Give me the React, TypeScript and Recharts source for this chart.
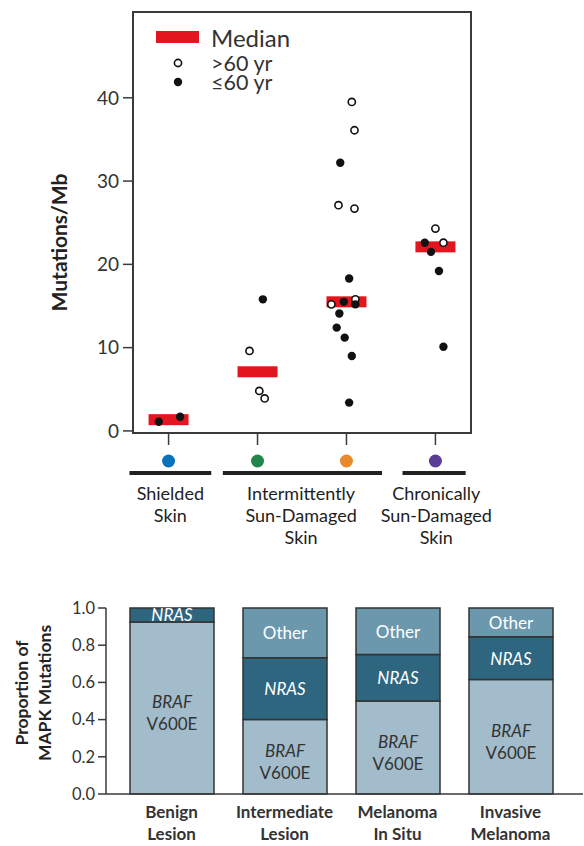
import React from 'react';
import {
  ScatterChart,
  Scatter,
  BarChart,
  Bar,
  XAxis,
  YAxis,
  ReferenceArea,
  Legend,
  LabelList,
} from 'recharts';

// top panel: mutation burden by skin type
const skinColors = ['#0b72b9', '#1f8749', '#e8892b', '#5b3d98'];
const skinTicks = [0, 1, 2, 3];
const groupLabels = [['Shielded', 'Skin'], ['Intermittently', 'Sun-Damaged', 'Skin'], ['Chronically', 'Sun-Damaged', 'Skin']];
const groupStartTick = [0, 1, 3];
const groupFrom = [-0.44, 0.61, 2.63];
const groupTo = [0.48, 2.4, 3.34];
const groupMid = [0.02, 1.49, 3.01];

const medianX = [0, 1, 2, 3];
const medianY = [1.35, 7.1, 15.5, 22.1];

const olderX = [2.06, 2.09, 1.91, 2.09, 3.0, 3.09, 1.83, 2.1, 0.91, 1.02, 1.08];
const olderY = [39.5, 36.1, 27.1, 26.7, 24.3, 22.6, 15.2, 15.8, 9.6, 4.8, 3.9];

const youngerX = [1.93, 2.88, 2.95, 3.04, 3.09, 2.03, 1.06, 1.97, 2.1, 1.92, 1.89, 1.98, 2.06, 2.03, -0.11, 0.13];
const youngerY = [32.2, 22.6, 21.5, 19.2, 10.1, 18.3, 15.8, 15.5, 15.2, 14.1, 12.4, 11.2, 9.0, 3.4, 1.1, 1.7];

const mutTicks = [0, 10, 20, 30, 40];

// bottom panel: MAPK mutation proportions
const stages = [['Benign', 'Lesion'], ['Intermediate', 'Lesion'], ['Melanoma', 'In Situ'], ['Invasive', 'Melanoma']];
const brafShare = [0.925, 0.4, 0.5, 0.615];
const nrasShare = [0.075, 0.333, 0.25, 0.231];
const otherShare = [0, 0.267, 0.25, 0.154];
const propTicks = [0, 0.2, 0.4, 0.6, 0.8, 1.0];

const medians = medianX.map((x, i) => ({ x, y: medianY[i] }));
const older = olderX.map((x, i) => ({ x, y: olderY[i] }));
const younger = youngerX.map((x, i) => ({ x, y: youngerY[i] }));
const stageData = stages.map((s, i) => ({
  name: s.join(' '),
  braf: brafShare[i],
  nras: nrasShare[i],
  other: otherShare[i],
}));

const FONT = 'Lato, "Open Sans", sans-serif';
const INK = '#333';
const AXIS = '#3a3a3a';
const RED = '#e3161f';

const TOP_W = 584;
const TOP_LEFT = 133;
const TOP_RIGHT = 113;
const X_DOMAIN: [number, number] = [-0.4, 3.4];
const UNIT = (TOP_W - TOP_LEFT - TOP_RIGHT) / (X_DOMAIN[1] - X_DOMAIN[0]);

const SkinTick = (props: any) => {
  const { x, y, payload } = props;
  const v = payload.value;
  const g = groupStartTick.indexOf(v);
  return (
    <g>
      <circle cx={x} cy={y + 14} r={6.5} fill={skinColors[v]} />
      {g >= 0 && (
        <g>
          <line x1={x + (groupFrom[g] - v) * UNIT} x2={x + (groupTo[g] - v) * UNIT} y1={y + 26} y2={y + 26}
            stroke="#222" strokeWidth={4} />
          {groupLabels[g].map((t, i) => (
            <text key={t} x={x + (groupMid[g] - v) * UNIT} y={y + 46 + i * 22} textAnchor="middle"
              dominantBaseline="central" fontSize={18} fill="#1e1e1e" fontFamily={FONT}>{t}</text>
          ))}
        </g>
      )}
    </g>
  );
};

const LegendBox = () => (
  <svg width={170} height={75}>
    <rect x={6} y={11} width={43} height={12} fill={RED} />
    <circle cx={28} cy={43} r={3.6} fill="#fff" stroke="#111" strokeWidth={1.6} />
    <circle cx={28} cy={62} r={4.2} fill="#111" />
    <text x={61} y={17} dominantBaseline="central" fontSize={24} fill={INK} fontFamily={FONT}>Median</text>
    <text x={61} y={43} dominantBaseline="central" fontSize={21.5} fill={INK} fontFamily={FONT}>&gt;60 yr</text>
    <text x={61} y={62} dominantBaseline="central" fontSize={21.5} fill={INK} fontFamily={FONT}>≤60 yr</text>
  </svg>
);

const StageTick = (props: any) => {
  const { x, y, payload } = props;
  const lines = stages[payload.index] || [String(payload.value)];
  return (
    <g>
      {lines.map((t, i) => (
        <text key={t} x={x} y={y + 17 + i * 22} textAnchor="middle" dominantBaseline="central"
          fontSize={17} fontWeight="bold" fill={INK} fontFamily={FONT}>{t}</text>
      ))}
    </g>
  );
};

const segLabel = (kind: 'braf' | 'nras' | 'other') => (props: any) => {
  const { x, y, width, height, value } = props;
  if (!value) return null;
  const cx = x + width / 2;
  const cy = y + height / 2;
  if (kind === 'braf') {
    return (
      <g fontFamily={FONT} fontSize={17} fill={INK}>
        <text x={cx} y={cy - 6} textAnchor="middle" dominantBaseline="central" fontStyle="italic">BRAF</text>
        <text x={cx} y={cy + 16} textAnchor="middle" dominantBaseline="central">V600E</text>
      </g>
    );
  }
  return (
    <text x={cx} y={cy} textAnchor="middle" dominantBaseline="central" fontFamily={FONT} fontSize={17}
      fill="#fff" fontStyle={kind === 'nras' ? 'italic' : 'normal'}>
      {kind === 'nras' ? 'NRAS' : 'Other'}
    </text>
  );
};

const App = () => (
  <div style={{ position: 'absolute', left: 0, top: 0, width: 584, height: 846, background: '#fff', fontFamily: FONT }}>
    <div style={{ position: 'absolute', left: 0, top: 0 }}>
      <ScatterChart width={TOP_W} height={570} margin={{ top: 12, right: TOP_RIGHT, bottom: 0, left: 0 }}>
        <XAxis type="number" dataKey="x" domain={X_DOMAIN} ticks={skinTicks} allowDataOverflow interval={0}
          height={137} tick={<SkinTick />} tickSize={12} tickLine={{ stroke: AXIS, strokeWidth: 1.5 }}
          axisLine={{ stroke: AXIS, strokeWidth: 2 }} />
        <YAxis type="number" dataKey="y" domain={[-0.25, 50.3]} ticks={mutTicks} allowDataOverflow width={TOP_LEFT}
          tickSize={10} tickMargin={4} tick={{ fontSize: 19, fill: INK, fontFamily: FONT }}
          tickLine={{ stroke: AXIS, strokeWidth: 1.5 }} axisLine={{ stroke: AXIS, strokeWidth: 2 }}
          label={{
            content: ({ viewBox }: any) => (
              <text transform={`translate(${viewBox.x + 58}, ${viewBox.y + viewBox.height / 2 + 20}) rotate(-90)`}
                textAnchor="middle" dominantBaseline="central" fontSize={21} fontWeight="bold" fill="#222"
                fontFamily={FONT}>Mutations/Mb</text>
            ),
          }} />
        <ReferenceArea x1={X_DOMAIN[0]} x2={X_DOMAIN[1]} y1={-0.25} y2={50.3} fill="none" stroke={AXIS} strokeWidth={2} />
        <Legend content={<LegendBox />} layout="vertical" verticalAlign="middle" align="center"
          wrapperStyle={{ position: 'absolute', top: 20, left: 150, width: 170 }} />
        <Scatter name="Median" data={medians} isAnimationActive={false}
          shape={(p: any) => <rect x={p.cx - 20} y={p.cy - 5.5} width={40} height={11} fill={RED} />} />
        <Scatter name=">60 yr" data={older} isAnimationActive={false}
          shape={(p: any) => <circle cx={p.cx} cy={p.cy} r={3.6} fill="#fff" stroke="#111" strokeWidth={1.6} />} />
        <Scatter name="≤60 yr" data={younger} isAnimationActive={false}
          shape={(p: any) => <circle cx={p.cx} cy={p.cy} r={4.2} fill="#111" />} />
      </ScatterChart>
    </div>
    <div style={{ position: 'absolute', left: 0, top: 590 }}>
      <BarChart width={584} height={256} data={stageData} margin={{ top: 18, right: 1, bottom: 0, left: 0 }}>
        <XAxis dataKey="name" height={52} padding={{ left: 9, right: 16 }} tickLine={false} tickSize={0}
          tickMargin={0} interval={0} tick={<StageTick />} axisLine={{ stroke: AXIS, strokeWidth: 1.5 }} />
        <YAxis type="number" domain={[0, 1]} ticks={propTicks} width={106} tickSize={8} tickMargin={3}
          tickFormatter={(v: number) => v.toFixed(1)} tick={{ fontSize: 16.5, fill: INK, fontFamily: FONT }}
          tickLine={{ stroke: AXIS, strokeWidth: 1.5 }} axisLine={{ stroke: AXIS, strokeWidth: 1.5 }}
          label={{
            content: ({ viewBox }: any) => {
              const cy = viewBox.y + viewBox.height / 2 - 8;
              return (
                <g fontFamily={FONT} fontSize={17.5} fontWeight="bold" fill="#222">
                  <text transform={`translate(${viewBox.x + 21}, ${cy}) rotate(-90)`} textAnchor="middle"
                    dominantBaseline="central">Proportion of</text>
                  <text transform={`translate(${viewBox.x + 44}, ${cy}) rotate(-90)`} textAnchor="middle"
                    dominantBaseline="central">MAPK Mutations</text>
                </g>
              );
            },
          }} />
        <Bar dataKey="braf" stackId="m" barSize={84} fill="#a2bccb" stroke="#333" strokeWidth={1.5} isAnimationActive={false}>
          <LabelList dataKey="braf" content={segLabel('braf')} />
        </Bar>
        <Bar dataKey="nras" stackId="m" barSize={84} fill="#2f667f" stroke="#333" strokeWidth={1.5} isAnimationActive={false}>
          <LabelList dataKey="nras" content={segLabel('nras')} />
        </Bar>
        <Bar dataKey="other" stackId="m" barSize={84} fill="#6c98ad" stroke="#333" strokeWidth={1.5} isAnimationActive={false}>
          <LabelList dataKey="other" content={segLabel('other')} />
        </Bar>
      </BarChart>
    </div>
  </div>
);

export default App;
